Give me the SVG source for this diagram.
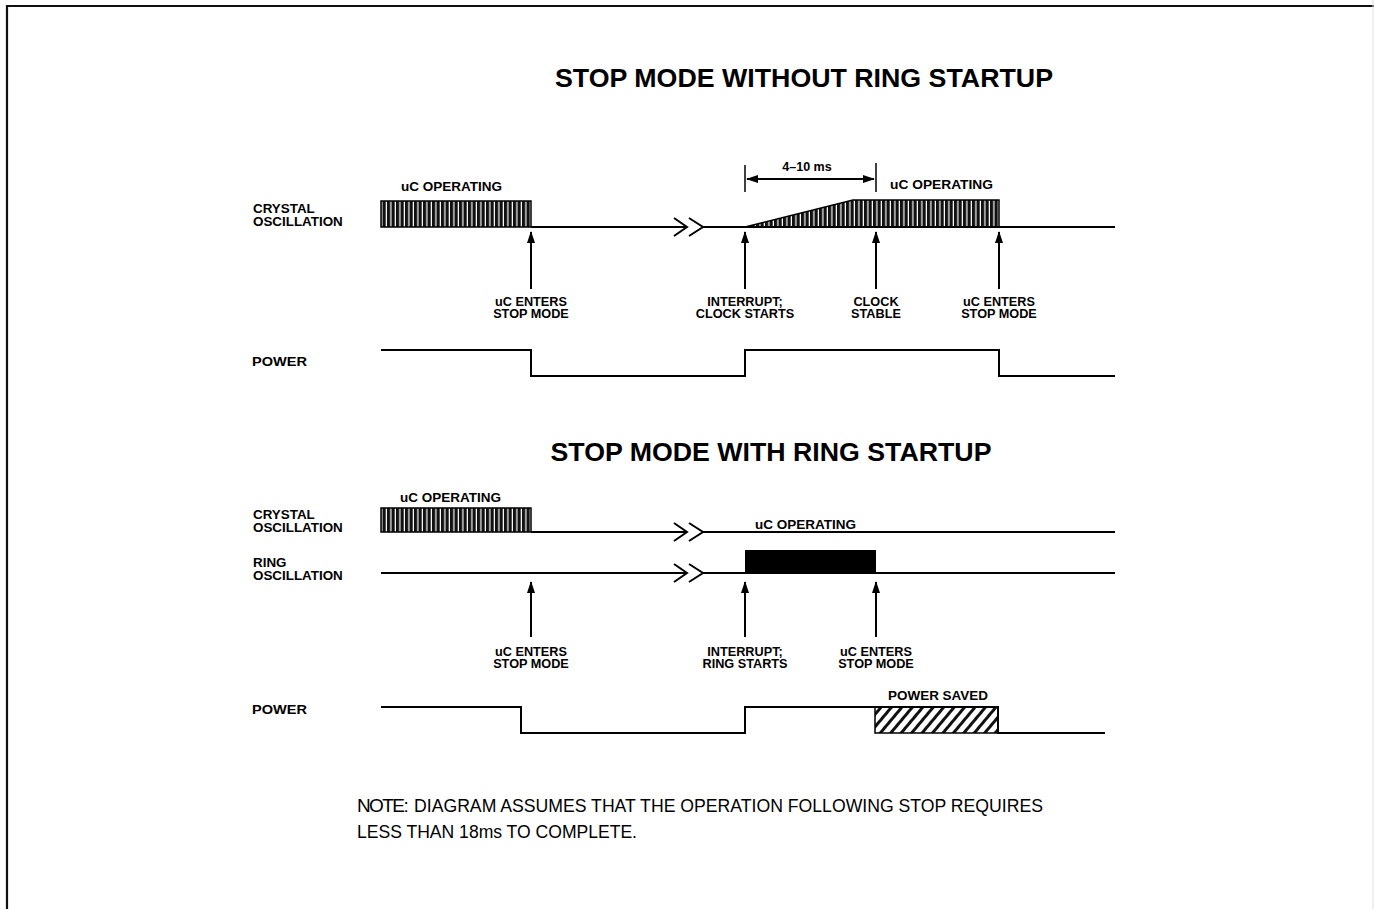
<svg xmlns="http://www.w3.org/2000/svg" width="1374" height="909" viewBox="0 0 1374 909">
<style>
.t{font-family:"Liberation Sans",Arial,Helvetica,sans-serif;font-weight:bold;fill:#000}
.title{font-size:25px;text-anchor:middle}
.lbl{font-size:13.4px}
.alb{font-size:12.7px;text-anchor:middle}
.note{font-family:"Liberation Sans",Arial,Helvetica,sans-serif;font-size:18px;fill:#000}
.wave{fill:none;stroke:#000;stroke-width:2}
.arr{stroke:#000;stroke-width:2;fill:none}
</style>
<defs>
<pattern id="stripes" patternUnits="userSpaceOnUse" width="4.5" height="10">
<rect width="4.5" height="10" fill="#fff"/>
<rect width="3.3" height="10" fill="#111"/>
</pattern>
<pattern id="hatch" patternUnits="userSpaceOnUse" width="8" height="8" patternTransform="rotate(40)">
<rect width="8" height="8" fill="#fff"/>
<rect width="3" height="8" fill="#111"/>
</pattern>
<marker id="ah" viewBox="0 0 12 8" refX="11" refY="4" markerWidth="12" markerHeight="8" markerUnits="userSpaceOnUse" orient="auto">
<path d="M0,0 L12,4 L0,8 Z" fill="#000"/>
</marker>
</defs>
<rect width="1374" height="909" fill="#fff"/>
<g id="frame">
<path d="M7,909 V6 H1374" fill="none" stroke="#111" stroke-width="2.2"/>
<line x1="1373" y1="0" x2="1373" y2="909" stroke="#ddd" stroke-width="1"/>
</g>

<g id="top-title"><text class="t title" x="804" y="87" textLength="498" lengthAdjust="spacingAndGlyphs">STOP MODE WITHOUT RING STARTUP</text></g>

<g id="top-crystal-label"><text class="t lbl" x="253" y="213">CRYSTAL</text><text class="t lbl" x="253" y="226">OSCILLATION</text></g>
<g id="top-uc-op-1"><text class="t lbl" x="401" y="191" textLength="101" lengthAdjust="spacingAndGlyphs">uC OPERATING</text></g>
<g id="top-uc-op-2"><text class="t lbl" x="890" y="189" textLength="103" lengthAdjust="spacingAndGlyphs">uC OPERATING</text></g>

<g id="top-crystal-wave">
<rect x="381" y="201" width="150" height="26" fill="url(#stripes)" stroke="#000" stroke-width="1.5"/>
<polygon points="745,227 853,200 999,200 999,227" fill="url(#stripes)" stroke="#000" stroke-width="1.5"/>
<path class="wave" d="M531,227 H687 M703,227 H1115"/>
<path class="wave" d="M674,218 L687,227 L674,236 M689,218 L703,227 L689,236" stroke-width="1.8"/>
</g>

<g id="top-dim">
<line x1="745" y1="165" x2="745" y2="192" stroke="#000" stroke-width="1.5"/>
<line x1="876" y1="163" x2="876" y2="192" stroke="#000" stroke-width="1.5"/>
<line x1="810" y1="179" x2="747" y2="179" class="arr" stroke-width="1.6" marker-end="url(#ah)"/>
<line x1="810" y1="179" x2="874" y2="179" class="arr" stroke-width="1.6" marker-end="url(#ah)"/>
<text class="t" x="807" y="171" font-size="12.5px" text-anchor="middle">4–10 ms</text>
</g>

<g id="top-power-label"><text class="t lbl" x="252" y="366" textLength="55" lengthAdjust="spacingAndGlyphs">POWER</text></g>
<g id="top-power-wave"><path class="wave" d="M381,350 H531 V376 H745 V350 H999 V376 H1115"/></g>

<g id="top-ev1"><text class="t alb" x="531" y="306">uC ENTERS</text><text class="t alb" x="531" y="318">STOP MODE</text></g>
<g id="top-ev2"><text class="t alb" x="745" y="306">INTERRUPT;</text><text class="t alb" x="745" y="318">CLOCK STARTS</text></g>
<g id="top-ev3"><text class="t alb" x="876" y="306">CLOCK</text><text class="t alb" x="876" y="318">STABLE</text></g>
<g id="top-ev4"><text class="t alb" x="999" y="306">uC ENTERS</text><text class="t alb" x="999" y="318">STOP MODE</text></g>

<g id="bot-title"><text class="t title" x="771" y="461" textLength="441" lengthAdjust="spacingAndGlyphs">STOP MODE WITH RING STARTUP</text></g>
<g id="bot-uc-op-1"><text class="t lbl" x="400" y="502" textLength="101" lengthAdjust="spacingAndGlyphs">uC OPERATING</text></g>
<g id="bot-crystal-label"><text class="t lbl" x="253" y="519">CRYSTAL</text><text class="t lbl" x="253" y="532">OSCILLATION</text></g>
<g id="bot-ring-label"><text class="t lbl" x="253" y="567">RING</text><text class="t lbl" x="253" y="580">OSCILLATION</text></g>
<g id="bot-uc-op-2"><text class="t lbl" x="755" y="529" textLength="101" lengthAdjust="spacingAndGlyphs">uC OPERATING</text></g>

<g id="bot-crystal-wave">
<rect x="381" y="508" width="150" height="24" fill="url(#stripes)" stroke="#000" stroke-width="1.5"/>
<path class="wave" d="M531,532 H687 M703,532 H1115"/>
<path class="wave" d="M674,523 L687,532 L674,541 M689,523 L703,532 L689,541" stroke-width="1.8"/>
</g>
<g id="bot-ring-wave">
<rect x="745" y="550" width="131" height="23" fill="#000"/>
<path class="wave" d="M381,573 H687 M703,573 H1115"/>
<path class="wave" d="M674,564 L687,573 L674,582 M689,564 L703,573 L689,582" stroke-width="1.8"/>
</g>

<g id="bot-ev1"><text class="t alb" x="531" y="656">uC ENTERS</text><text class="t alb" x="531" y="668">STOP MODE</text></g>
<g id="bot-ev2"><text class="t alb" x="745" y="656">INTERRUPT;</text><text class="t alb" x="745" y="668">RING STARTS</text></g>
<g id="bot-ev3"><text class="t alb" x="876" y="656">uC ENTERS</text><text class="t alb" x="876" y="668">STOP MODE</text></g>

<g id="bot-power-label"><text class="t lbl" x="252" y="714" textLength="55" lengthAdjust="spacingAndGlyphs">POWER</text></g>
<g id="bot-power-wave">
<rect x="875" y="707" width="123" height="26" fill="url(#hatch)" stroke="#000" stroke-width="1.5"/>
<path class="wave" d="M381,707 H521 V733 H745 V707 H998 V733 H1105"/>
<text class="t" x="888" y="700" font-size="12.5px" textLength="100" lengthAdjust="spacingAndGlyphs">POWER SAVED</text>
</g>

<g id="connectors">
<line class="arr" x1="531" y1="289" x2="531" y2="232" marker-end="url(#ah)"/>
<line class="arr" x1="745" y1="289" x2="745" y2="232" marker-end="url(#ah)"/>
<line class="arr" x1="876" y1="289" x2="876" y2="232" marker-end="url(#ah)"/>
<line class="arr" x1="999" y1="289" x2="999" y2="232" marker-end="url(#ah)"/>
<line class="arr" x1="531" y1="637" x2="531" y2="582" marker-end="url(#ah)"/>
<line class="arr" x1="745" y1="637" x2="745" y2="582" marker-end="url(#ah)"/>
<line class="arr" x1="876" y1="637" x2="876" y2="582" marker-end="url(#ah)"/>
</g>

<g id="note">
<text class="note" x="357" y="812"><tspan font-size="19px" letter-spacing="-1.6">NOTE:</tspan><tspan x="414" textLength="629" lengthAdjust="spacingAndGlyphs">DIAGRAM ASSUMES THAT THE OPERATION FOLLOWING STOP REQUIRES</tspan></text>
<text class="note" x="357" y="838" textLength="280" lengthAdjust="spacingAndGlyphs">LESS THAN 18ms TO COMPLETE.</text>
</g>
</svg>
